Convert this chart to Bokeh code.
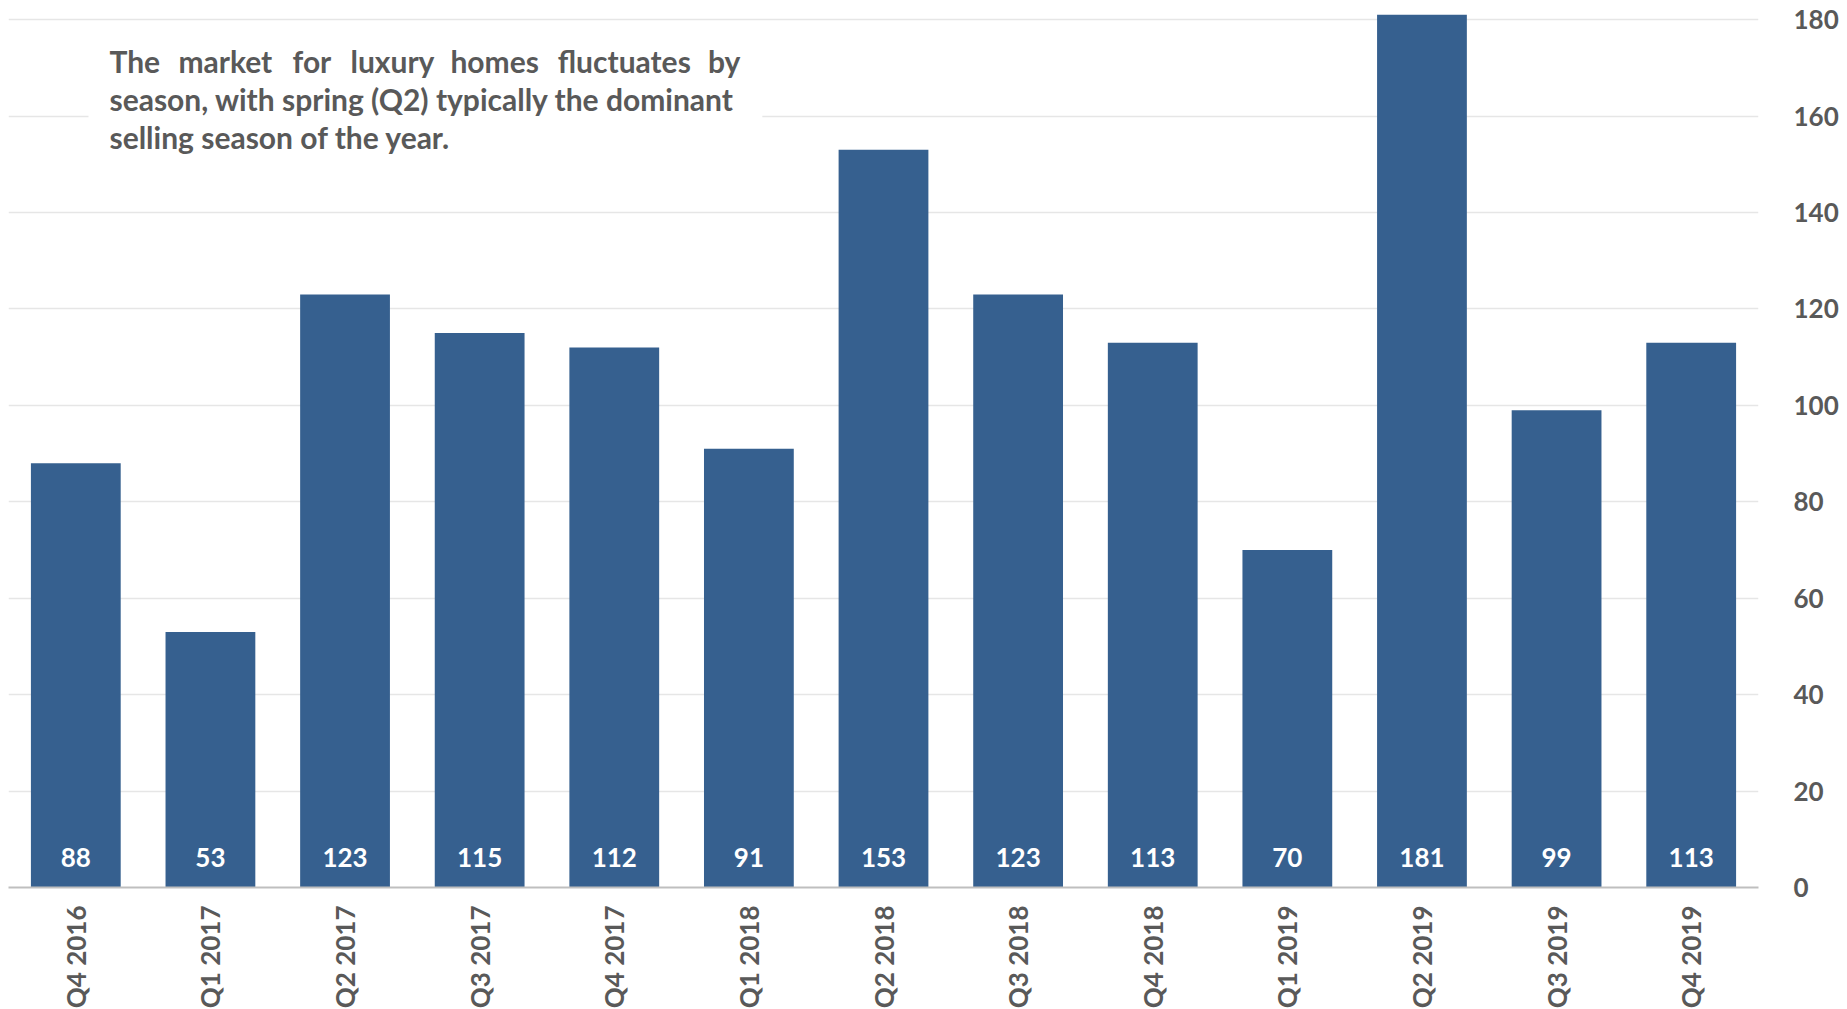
import math
from bokeh.plotting import figure
from bokeh.models import FactorRange, Range1d, FixedTicker, Label, BoxAnnotation, ColumnDataSource
from bokeh.embed import file_html
from bokeh.resources import INLINE
from bokeh.core.properties import value

# ---- data ----
quarters = ["Q4 2016", "Q1 2017", "Q2 2017", "Q3 2017", "Q4 2017", "Q1 2018", "Q2 2018",
            "Q3 2018", "Q4 2018", "Q1 2019", "Q2 2019", "Q3 2019", "Q4 2019"]
sales = [88, 53, 123, 115, 112, 91, 153, 123, 113, 70, 181, 99, 113]
y_ticks = [0, 20, 40, 60, 80, 100, 120, 140, 160, 180]
note_line1_words = ["The", "market", "for", "luxury", "homes", "fluctuates", "by"]
note_line2 = "season, with spring (Q2) typically the dominant"
note_line3 = "selling season of the year."

FONT = "Lato"
GRAY = "#595959"
BAR = "#36608F"

src = ColumnDataSource(dict(q=quarters, v=sales, lbl=[str(s) for s in sales],
                            base=[0] * len(sales)))

p = figure(x_range=FactorRange(*quarters, range_padding=0),
           y_range=Range1d(0, 182.1),
           frame_width=1750, frame_height=878,
           y_axis_location="right",
           output_backend="svg", toolbar_location=None,
           min_border_left=8, min_border_top=9, min_border_right=10, min_border_bottom=10,
           outline_line_color=None, background_fill_color="white", border_fill_color="white")

p.vbar(x="q", top="v", width=0.667, source=src, fill_color=BAR, line_color=None)
p.text(x="q", y="base", text="lbl", source=src, text_color="white",
       text_font=value(FONT), text_font_style="bold", text_font_size="26px",
       text_align="center", text_baseline="alphabetic", y_offset=-30)

# grid
p.xgrid.grid_line_color = None
p.ygrid.grid_line_color = "#E6E6E6"
p.ygrid.grid_line_width = 1.5
p.ygrid.ticker = FixedTicker(ticks=y_ticks)

# x axis
xa = p.xaxis[0]
xa.major_label_orientation = math.pi / 2
xa.major_label_text_font = FONT
xa.major_label_text_font_style = "bold"
xa.major_label_text_font_size = "26px"
xa.major_label_text_color = GRAY
xa.major_tick_line_color = None
xa.minor_tick_line_color = None
xa.axis_line_color = "#BFBFBF"
xa.axis_line_width = 2
xa.major_label_standoff = 12

# y axis (right)
ya = p.yaxis[0]
ya.ticker = FixedTicker(ticks=y_ticks)
ya.major_label_text_font = FONT
ya.major_label_text_font_style = "bold"
ya.major_label_text_font_size = "26px"
ya.major_label_text_color = GRAY
ya.major_tick_line_color = None
ya.minor_tick_line_color = None
ya.axis_line_color = None
ya.major_label_standoff = 29

# annotation note with white backdrop
p.add_layout(BoxAnnotation(left=0.594, right=5.6, bottom=149.5, top=176.0,
                           fill_color="white", fill_alpha=1.0, line_color=None, level="underlay"))
NOTE_SIZE = "30px"
L1, L2, L3 = 171.5, 163.6, 155.7


def note(text, x, y, align="left"):
    p.add_layout(Label(x=x, y=y, text=text, text_font=FONT, text_font_style="bold",
                       text_font_size=NOTE_SIZE, text_color=GRAY,
                       text_baseline="alphabetic", text_align=align))


# first line justified (evenly spaced words)
for w, xx in zip(note_line1_words[:-1], [0.750, 1.262, 2.110, 2.540, 3.283, 4.080]):
    note(w, xx, L1, "left")
note(note_line1_words[-1], 5.437, L1, "right")
note(note_line2, 0.750, L2)
note(note_line3, 0.750, L3)

open("out.html", "w").write(file_html(p, INLINE))
